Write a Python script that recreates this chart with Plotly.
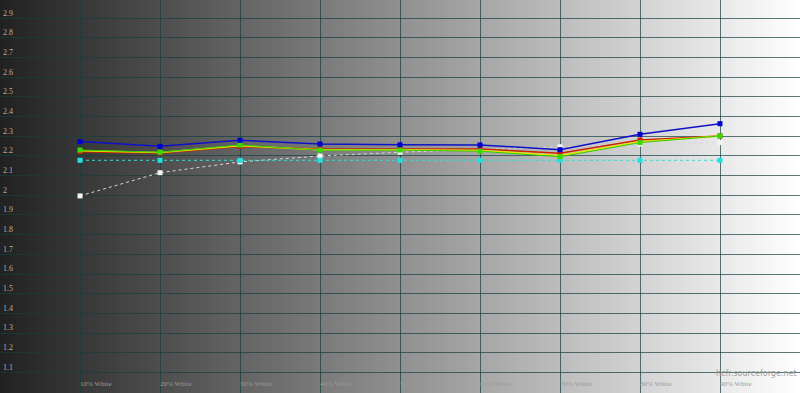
import plotly.graph_objects as go

# ---- data ----
x_levels = [10, 20, 30, 40, 50, 60, 70, 80, 90]
x_labels = ["10% White", "20% White", "30% White", "40% White", "50% White",
            "60% White", "70% White", "80% White", "90% White"]
y_ticks = [1.1, 1.2, 1.3, 1.4, 1.5, 1.6, 1.7, 1.8, 1.9, 2.0,
           2.1, 2.2, 2.3, 2.4, 2.5, 2.6, 2.7, 2.8, 2.9]
y_tick_text = ["1.1", "1.2", "1.3", "1.4", "1.5", "1.6", "1.7", "1.8", "1.9", "2",
               "2.1", "2.2", "2.3", "2.4", "2.5", "2.6", "2.7", "2.8", "2.9"]

gamma_white_ref = [1.997, 2.115, 2.170, 2.200, 2.219, 2.232, 2.247, 2.260, 2.268]
gamma_target = [2.178, 2.178, 2.178, 2.178, 2.178, 2.178, 2.178, 2.178, 2.178]
gamma_red = [2.222, 2.215, 2.248, 2.236, 2.236, 2.236, 2.214, 2.281, 2.302]
gamma_green = [2.230, 2.219, 2.256, 2.230, 2.230, 2.224, 2.196, 2.268, 2.302]
gamma_blue = [2.273, 2.249, 2.280, 2.261, 2.257, 2.256, 2.232, 2.310, 2.364]
gamma_lum = [2.226, 2.218, 2.252, 2.232, 2.232, 2.228, 2.203, 2.272, 2.302]

fig = go.Figure()

# background gradient (dark left -> white right), drawn under the grid
n_strips = 400
shapes = []
for i in range(n_strips):
    x0 = 100.0 * i / n_strips
    x1 = 100.0 * (i + 1) / n_strips + 0.12
    t = (i + 0.5) / n_strips
    g = int(round(33 + (255 - 33) * t))
    shapes.append(dict(type="rect", xref="x", yref="paper", x0=x0, x1=x1, y0=0, y1=1,
                       fillcolor=f"rgb({g},{g},{g})", line=dict(width=0), layer="below"))

fig.add_trace(go.Scatter(x=x_levels, y=gamma_white_ref, mode="lines+markers",
                         line=dict(color="#d8d8d8", width=1, dash="dot"),
                         marker=dict(symbol="square", size=5, color="#f4f4f4"),
                         name="ref"))
fig.add_trace(go.Scatter(x=x_levels, y=gamma_target, mode="lines+markers",
                         line=dict(color="#3fd6d6", width=1, dash="dot"),
                         marker=dict(symbol="square", size=5, color="#22e0e0"),
                         name="target"))
fig.add_trace(go.Scatter(x=x_levels, y=gamma_red, mode="lines+markers",
                         line=dict(color="#cc2200", width=1.5),
                         marker=dict(symbol="square", size=5, color="#cc2200"),
                         name="red"))
fig.add_trace(go.Scatter(x=x_levels, y=gamma_lum, mode="lines",
                         line=dict(color="#e6e600", width=1.5),
                         name="lum"))
fig.add_trace(go.Scatter(x=x_levels, y=gamma_green, mode="lines+markers",
                         line=dict(color="#33cc00", width=1),
                         marker=dict(symbol="square", size=5, color="#33dd00"),
                         name="green"))
fig.add_trace(go.Scatter(x=x_levels, y=gamma_blue, mode="lines+markers",
                         line=dict(color="#1010c8", width=1.5),
                         marker=dict(symbol="square", size=5, color="#0000d0"),
                         name="blue"))

grid_col = "rgba(22,62,62,0.7)"

fig.update_layout(
    width=800, height=393,
    margin=dict(l=0, r=0, t=0, b=0),
    paper_bgcolor="#ffffff",
    plot_bgcolor="rgba(0,0,0,0)",
    showlegend=False,
    shapes=shapes,
    xaxis=dict(range=[0, 100], tickvals=x_levels, ticktext=x_labels,
               showgrid=True, gridcolor=grid_col, gridwidth=1,
               zeroline=False, showline=False, ticks="",
               ticklabelposition="inside right",
               tickfont=dict(family="Liberation Serif", size=7, color="#9a9a9a"),
               fixedrange=True),
    yaxis=dict(range=[0.995, 2.993], tickvals=y_ticks, ticktext=y_tick_text,
               showgrid=True, gridcolor=grid_col, gridwidth=1,
               zeroline=False, showline=False, ticks="",
               ticklabelposition="inside top",
               tickfont=dict(family="Liberation Serif", size=8, color="#b0b0b0"),
               fixedrange=True),
    annotations=[dict(text="hcfr.sourceforge.net", xref="paper", yref="paper",
                      x=0.997, y=(393 - 373) / 393, xanchor="right", yanchor="middle",
                      showarrow=False,
                      font=dict(family="DejaVu Sans", size=8, color="#a0a0a0"))],
)

fig.write_html("out.html")
